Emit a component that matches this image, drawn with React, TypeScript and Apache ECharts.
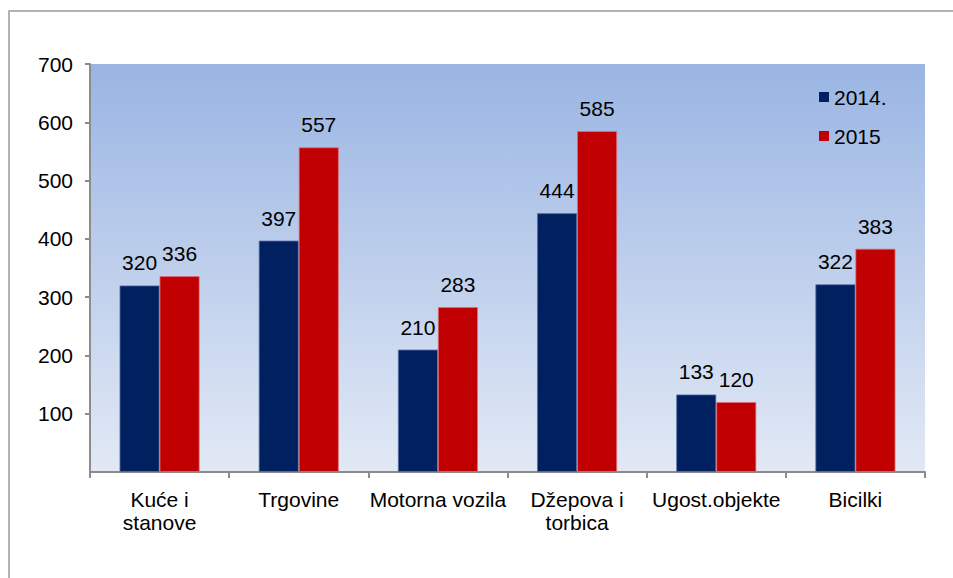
import React, { useEffect, useRef } from "react";
import * as echarts from "echarts";

const categories = ["Kuće i\nstanove", "Trgovine", "Motorna vozila", "Džepova i\ntorbica", "Ugost.objekte", "Bicilki"];
const series2014 = [320, 397, 210, 444, 133, 322];
const series2015 = [336, 557, 283, 585, 120, 383];
const yTicks = { min: 0, max: 700, interval: 100 };

const FONT = "'Liberation Sans', Arial, sans-serif";
const FS = 21;

export default function App() {
  const ref = useRef<HTMLDivElement>(null);
  useEffect(() => {
    if (!ref.current) return;
    const chart = echarts.init(ref.current, null, { renderer: "svg" });
    const labelStyle = {
      show: true,
      position: "top" as const,
      distance: 12,
      color: "#000",
      fontSize: FS,
      fontFamily: FONT,
    };
    chart.setOption({
      animation: false,
      backgroundColor: "#fff",
      textStyle: { fontFamily: FONT },
      graphic: [
        {
          type: "rect",
          shape: { x: 9, y: 11, width: 960, height: 600 },
          style: { fill: "none", stroke: "#9a9a9a", lineWidth: 1.5 },
          silent: true,
          z: -1,
        },
      ],
      grid: {
        left: 90,
        right: 28,
        top: 64,
        bottom: 106,
        show: true,
        borderWidth: 0,
        backgroundColor: new echarts.graphic.LinearGradient(0, 0, 0, 1, [
          { offset: 0, color: "#9ab5e3" },
          { offset: 1, color: "#e2e9f5" },
        ]),
      },
      legend: {
        orient: "vertical",
        left: 814,
        top: 80,
        itemWidth: 10,
        itemHeight: 10,
        itemGap: 15,
        icon: "rect",
        itemStyle: { borderWidth: 0 },
        textStyle: { fontSize: FS, color: "#000", fontFamily: FONT, lineHeight: 24 },
        data: ["2014.", "2015"],
      },
      xAxis: {
        type: "category",
        data: categories,
        axisLine: { lineStyle: { color: "#8c8c8c", width: 2 } },
        axisTick: { show: true, length: 6, lineStyle: { color: "#8c8c8c", width: 2 } },
        axisLabel: { color: "#000", fontSize: FS, fontFamily: FONT, margin: 16, lineHeight: 23, interval: 0 },
      },
      yAxis: {
        type: "value",
        min: yTicks.min,
        max: yTicks.max,
        interval: yTicks.interval,
        axisLine: { show: true, lineStyle: { color: "#8c8c8c", width: 2 } },
        axisTick: { show: true, length: 5, lineStyle: { color: "#8c8c8c", width: 2 } },
        axisLabel: { color: "#000", fontSize: FS, fontFamily: FONT, margin: 17, showMinLabel: false },
        splitLine: { show: false },
      },
      series: [
        {
          name: "2014.",
          type: "bar",
          data: series2014,
          barWidth: 40,
          barGap: "0%",
          itemStyle: { color: "#00205f", borderColor: "#5a74a8", borderWidth: 0.8 },
          label: labelStyle,
        },
        {
          name: "2015",
          type: "bar",
          data: series2015,
          barWidth: 40,
          itemStyle: { color: "#c00000", borderColor: "#e0707a", borderWidth: 0.8 },
          label: labelStyle,
        },
      ],
    });
    return () => chart.dispose();
  }, []);
  return (
    <div
      ref={ref}
      style={{ position: "absolute", left: 0, top: 0, width: 953, height: 578 }}
    />
  );
}
